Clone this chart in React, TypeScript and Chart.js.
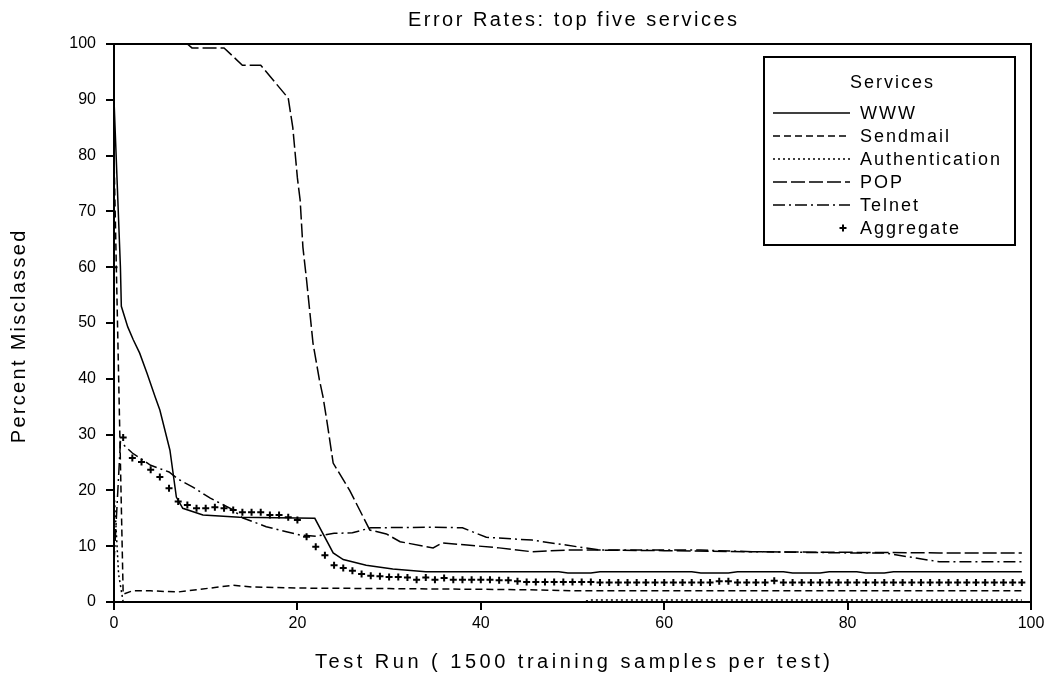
import React, { useEffect, useRef } from 'react';
import { Chart, registerables } from 'chart.js';

Chart.register(...registerables);

const TITLE = 'Error Rates: top five services';
const X_TITLE = 'Test Run ( 1500 training samples per test)';
const Y_TITLE = 'Percent Misclassed';
const LEGEND_TITLE = 'Services';
const SERIES_NAMES = ['WWW', 'Sendmail', 'Authentication', 'POP', 'Telnet', 'Aggregate'];

const X_MIN = 0;
const X_MAX = 100;
const X_STEP = 20;
const Y_MIN = 0;
const Y_MAX = 100;
const Y_STEP = 10;

// WWW (solid)
const wwwX = [0, 0.7, 0.8, 1.5, 2.1, 2.8, 3.6, 4.5, 5, 6.1, 6.8, 7.5, 9.7, 13.7, 21.9, 23.9, 25, 27.5, 30.4, 34, 48.5, 49.5, 52, 53, 63, 64, 67, 68, 73, 74, 77, 78, 81, 82, 84, 85, 99];
const wwwY = [90, 60, 53, 49.3, 47, 44.6, 41, 36.7, 34.4, 27.2, 18.8, 16.8, 15.6, 15.2, 15.0, 8.8, 7.6, 6.6, 5.9, 5.4, 5.4, 5.2, 5.2, 5.4, 5.4, 5.2, 5.2, 5.4, 5.4, 5.2, 5.2, 5.4, 5.4, 5.2, 5.2, 5.4, 5.4];

// Sendmail (short dash)
const sendmailX = [0, 1, 2, 4, 7, 9, 11, 13, 15, 20, 30, 38, 45, 50, 99];
const sendmailY = [80, 1.4, 2.0, 2.0, 1.8, 2.2, 2.6, 3.0, 2.7, 2.5, 2.4, 2.3, 2.2, 2.0, 2.0];

// Authentication (dotted)
const authX = [0, 0.5, 1, 51, 52, 99];
const authY = [20, 5, 0, 0, 0.35, 0.35];

// POP (long dash)
const popX = [0, 8, 8.5, 12, 14, 16, 19, 19.5, 20, 20.3, 20.6, 21, 21.7, 22.4, 22.8, 23.2, 23.9, 25.7, 27.9, 29.7, 31.2, 34.8, 35.8, 38.5, 42, 45.6, 49.3, 53, 60, 70, 80, 90, 99];
const popY = [100, 100, 99.3, 99.3, 96.2, 96.2, 90.3, 85, 76, 72, 63.6, 57.7, 46.4, 39.8, 36.7, 32.6, 24.9, 20, 12.9, 12.2, 10.8, 9.7, 10.6, 10.2, 9.7, 9.0, 9.3, 9.3, 9.2, 9.0, 8.9, 8.8, 8.8];

// Telnet (dash-dot)
const telnetX = [0, 0.7, 2, 4, 6, 7, 8.6, 10.5, 13, 14, 16.6, 18.8, 20.3, 22, 24, 26, 28, 35, 38, 40.6, 45.6, 49.3, 53, 64, 70, 80, 84, 87, 90, 99];
const telnetY = [7, 28.7, 26.7, 24.5, 23.3, 22, 20.6, 18.6, 16.5, 15.1, 13.5, 12.6, 12, 11.8, 12.3, 12.4, 13.3, 13.4, 13.3, 11.6, 11.1, 10.2, 9.3, 9.3, 9.0, 8.8, 8.8, 8.0, 7.2, 7.2];

// Aggregate (markers), one value per test run 0..99
const aggregateY = [
  60, 29.5, 25.8, 25.1, 23.7, 22.4, 20.4, 18.0, 17.4, 16.8,
  16.8, 17.0, 16.8, 16.5, 16.1, 16.1, 16.1, 15.6, 15.6, 15.2,
  14.7, 11.7, 9.9, 8.4, 6.6, 6.1, 5.6, 5.0, 4.7, 4.6,
  4.5, 4.5, 4.4, 4.0, 4.4, 4.0, 4.3, 4.0, 4.0, 4.0,
  4.0, 4.0, 3.9, 3.9, 3.7, 3.6, 3.6, 3.6, 3.6, 3.6,
  3.6, 3.6, 3.6, 3.5, 3.5, 3.5, 3.5, 3.5, 3.5, 3.5,
  3.5, 3.5, 3.5, 3.5, 3.5, 3.5, 3.7, 3.7, 3.5, 3.5,
  3.5, 3.5, 3.8, 3.5, 3.5, 3.5, 3.5, 3.5, 3.5, 3.5,
  3.5, 3.5, 3.5, 3.5, 3.5, 3.5, 3.5, 3.5, 3.5, 3.5,
  3.5, 3.5, 3.5, 3.5, 3.5, 3.5, 3.5, 3.5, 3.5, 3.5,
];

const FONT = '"Liberation Sans", Arial, sans-serif';

const toPoints = (xs: number[], ys: number[]) => xs.map((x, i) => ({ x, y: ys[i] }));

const drawSpaced = (ctx: any, text: string, x: number, y: number, spacing: number, font: string, align: string) => {
  ctx.save();
  ctx.font = font;
  try { ctx.letterSpacing = `${spacing}px`; } catch (e) { /* ignore */ }
  ctx.textBaseline = 'middle';
  ctx.textAlign = 'left';
  const w = ctx.measureText(text).width - spacing;
  let sx = x;
  if (align === 'center') sx = x - w / 2;
  else if (align === 'right') sx = x - w;
  ctx.fillText(text, sx, y);
  ctx.restore();
};

const frameAndLegendPlugin = {
  id: 'frameAndLegend',
  afterDatasetsDraw(chart: any) {
    const { ctx, chartArea } = chart;
    ctx.save();
    ctx.strokeStyle = '#000';
    ctx.lineWidth = 2;
    ctx.beginPath();
    ctx.moveTo(chartArea.left, chartArea.top);
    ctx.lineTo(chartArea.right, chartArea.top);
    ctx.lineTo(chartArea.right, chartArea.bottom);
    ctx.stroke();
    ctx.restore();
  },
  afterDraw(chart: any) {
    const { ctx, chartArea } = chart;
    const cx = (chartArea.left + chartArea.right) / 2;
    ctx.save();
    ctx.fillStyle = '#000';
    // chart title
    drawSpaced(ctx, TITLE, cx, 20, 2.5, `20px ${FONT}`, 'center');
    // x axis title
    drawSpaced(ctx, X_TITLE, cx, 662, 3.5, `20px ${FONT}`, 'center');
    // y axis title (rotated)
    ctx.save();
    ctx.translate(19, 337);
    ctx.rotate(-Math.PI / 2);
    drawSpaced(ctx, Y_TITLE, 0, 0, 2.3, `20px ${FONT}`, 'center');
    ctx.restore();

    // legend box
    const bx = 764, by = 57, bw = 251, bh = 188;
    ctx.fillStyle = '#fff';
    ctx.fillRect(bx, by, bw, bh);
    ctx.strokeStyle = '#000';
    ctx.lineWidth = 2;
    ctx.strokeRect(bx, by, bw, bh);
    ctx.fillStyle = '#000';
    drawSpaced(ctx, LEGEND_TITLE, bx + bw / 2 + 2, 83, 2, `18px ${FONT}`, 'center');
    const rowY0 = 113;
    const rowH = 23;
    chart.data.datasets.forEach((ds: any, i: number) => {
      const y = rowY0 + i * rowH;
      ctx.strokeStyle = '#000';
      if (ds.showLine === false) {
        const mx = 843;
        ctx.beginPath();
        ctx.lineWidth = 2;
        ctx.setLineDash([]);
        ctx.moveTo(mx - 3.5, y);
        ctx.lineTo(mx + 3.5, y);
        ctx.moveTo(mx, y - 3.5);
        ctx.lineTo(mx, y + 3.5);
        ctx.stroke();
      } else {
        ctx.beginPath();
        ctx.lineWidth = ds.borderWidth;
        ctx.setLineDash(ds.borderDash || []);
        ctx.moveTo(773, y);
        ctx.lineTo(850, y);
        ctx.stroke();
      }
      ctx.setLineDash([]);
      drawSpaced(ctx, ds.label, 860, y + 1, 2, `18px ${FONT}`, 'left');
    });
    ctx.restore();
  },
};

export default function App() {
  const canvasRef = useRef<HTMLCanvasElement | null>(null);

  useEffect(() => {
    if (!canvasRef.current) return;
    const lineBase = {
      borderColor: '#000',
      backgroundColor: '#000',
      borderWidth: 1.5,
      pointRadius: 0,
      pointHoverRadius: 0,
      tension: 0,
      fill: false,
    };
    const aggregateX = aggregateY.map((_, i) => i);
    const chart = new Chart(canvasRef.current, {
      type: 'line',
      data: {
        datasets: [
          { ...lineBase, label: SERIES_NAMES[0], data: toPoints(wwwX, wwwY), borderDash: [] },
          { ...lineBase, label: SERIES_NAMES[1], data: toPoints(sendmailX, sendmailY), borderDash: [7, 4] },
          { ...lineBase, label: SERIES_NAMES[2], data: toPoints(authX, authY), borderDash: [2, 3] },
          { ...lineBase, label: SERIES_NAMES[3], data: toPoints(popX, popY), borderDash: [14, 4] },
          { ...lineBase, label: SERIES_NAMES[4], data: toPoints(telnetX, telnetY), borderDash: [12, 4, 2, 4] },
          {
            label: SERIES_NAMES[5],
            data: toPoints(aggregateX, aggregateY),
            showLine: false,
            pointStyle: 'cross',
            pointRadius: 3.5,
            pointBorderWidth: 2,
            pointBorderColor: '#000',
            pointBackgroundColor: '#000',
            borderColor: '#000',
            borderWidth: 2,
          },
        ],
      } as any,
      options: {
        animation: false,
        responsive: true,
        maintainAspectRatio: false,
        events: [],
        layout: { padding: { top: 44, right: 24, bottom: 0, left: 0 } },
        plugins: {
          legend: { display: false },
          title: { display: false },
          tooltip: { enabled: false },
        },
        scales: {
          x: {
            type: 'linear',
            min: X_MIN,
            max: X_MAX,
            afterFit: (scale: any) => { scale.height = 75; },
            ticks: { stepSize: X_STEP, color: '#000', font: { family: FONT, size: 16 }, padding: 4, maxRotation: 0 },
            grid: { display: true, drawOnChartArea: false, drawTicks: true, tickLength: 8, color: '#000', lineWidth: 2 },
            border: { display: true, color: '#000', width: 2 },
            title: { display: false },
          },
          y: {
            type: 'linear',
            min: Y_MIN,
            max: Y_MAX,
            afterFit: (scale: any) => { scale.width = 114; },
            ticks: { stepSize: Y_STEP, color: '#000', font: { family: FONT, size: 16 }, padding: 10 },
            grid: { display: true, drawOnChartArea: false, drawTicks: true, tickLength: 8, color: '#000', lineWidth: 2 },
            border: { display: true, color: '#000', width: 2 },
            title: { display: false },
          },
        },
      } as any,
      plugins: [frameAndLegendPlugin],
    });
    return () => chart.destroy();
  }, []);

  return (
    <div style={{ position: 'fixed', left: 0, top: 0, width: 1055, height: 677, background: '#fff' }}>
      <canvas ref={canvasRef} />
    </div>
  );
}
